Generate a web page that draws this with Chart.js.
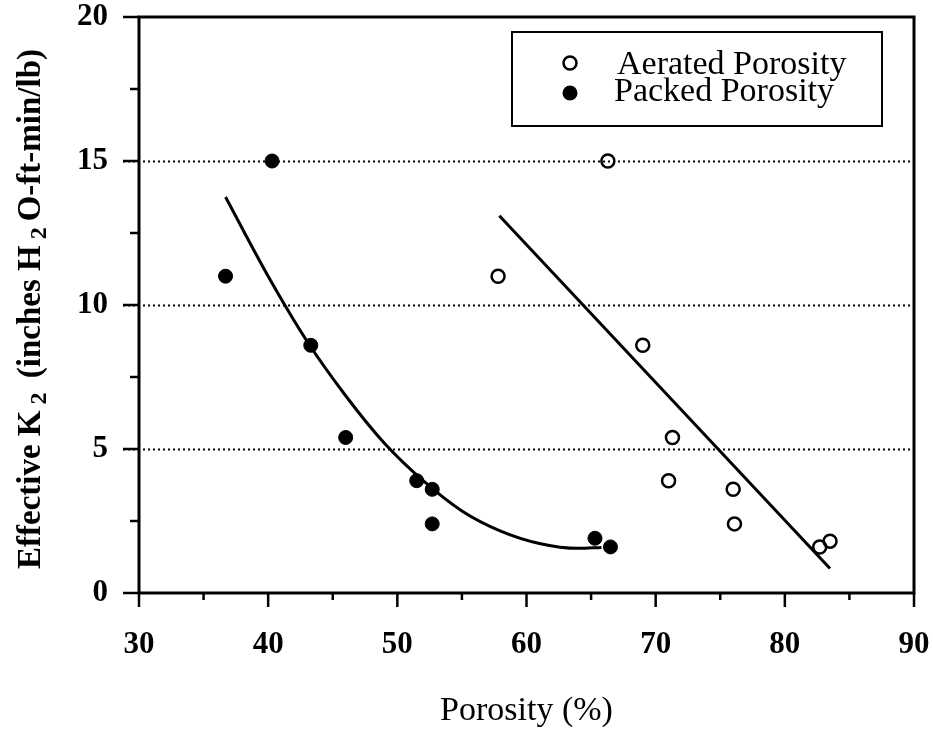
<!DOCTYPE html>
<html>
<head>
<meta charset="utf-8">
<script src="https://cdn.jsdelivr.net/npm/chart.js@4/dist/chart.umd.min.js"></script>
<style>
  html, body { margin: 0; padding: 0; background: #fff; }
  #wrap { width: 933px; height: 732px; position: relative; }
</style>
</head>
<body>
<div id="wrap"><canvas id="c"></canvas></div>
<script>
// Measured samples: porosity (%) vs effective K2
const packedPorosity  = [36.7, 40.3, 43.3, 46.0, 51.5, 52.7, 52.7, 65.3, 66.5];
const packedK2        = [11.0, 15.0, 8.6, 5.4, 3.9, 3.6, 2.4, 1.9, 1.6];
const aeratedPorosity = [57.8, 66.3, 69.0, 71.3, 71.0, 76.0, 76.1, 82.7, 83.5];
const aeratedK2       = [11.0, 15.0, 8.6, 5.4, 3.9, 3.6, 2.4, 1.6, 1.8];

// Trend curves
const packedFitX  = [36.7, 40, 43, 46, 49, 52, 55, 58, 61, 64, 65.8];
const packedFitY  = [13.75, 11.0, 8.75, 6.85, 5.2, 3.9, 2.85, 2.15, 1.72, 1.55, 1.58];
const aeratedFitX = [57.9, 83.5];
const aeratedFitY = [13.1, 0.85];

// Axis ticks
const xTicks = [30, 40, 50, 60, 70, 80, 90];
const yTicks = [0, 5, 10, 15, 20];
const legendLabels = ['Aerated Porosity', 'Packed Porosity'];

const SERIF = '"Liberation Serif", "Times New Roman", serif';
const pairs = (xs, ys) => xs.map((x, i) => ({ x: x, y: ys[i] }));

// Frame, tick marks, dotted guides, legend box and rotated y title
const decorations = {
  id: 'decorations',
  beforeDatasetsDraw(chart) {
    const { ctx, chartArea: a, scales: { x, y } } = chart;
    ctx.save();
    ctx.strokeStyle = '#000';
    ctx.lineWidth = 2;
    ctx.setLineDash([2, 3]);
    [5, 10, 15].forEach(v => {
      const py = Math.round(y.getPixelForValue(v)) + 0.5;
      ctx.beginPath();
      ctx.moveTo(a.left - 16, py);
      ctx.lineTo(a.right, py);
      ctx.stroke();
    });
    ctx.restore();
  },
  afterDraw(chart) {
    const { ctx, chartArea: a, scales: { x, y } } = chart;
    ctx.save();
    ctx.strokeStyle = '#000';
    ctx.fillStyle = '#000';

    // plot frame
    ctx.lineWidth = 3;
    ctx.strokeRect(a.left, a.top, a.right - a.left, a.bottom - a.top);

    // y tick marks (major every 5, minor every 2.5)
    ctx.lineWidth = 2.5;
    for (let v = 0; v <= 20; v += 2.5) {
      const py = y.getPixelForValue(v);
      const len = (v % 5 === 0) ? 16 : 9;
      ctx.beginPath();
      ctx.moveTo(a.left - len, py);
      ctx.lineTo(a.left, py);
      ctx.stroke();
    }
    // x tick marks (major every 10, minor every 5)
    for (let v = 30; v <= 90; v += 5) {
      const px = x.getPixelForValue(v);
      const len = (v % 10 === 0) ? 14 : 7;
      ctx.beginPath();
      ctx.moveTo(px, a.bottom);
      ctx.lineTo(px, a.bottom + len);
      ctx.stroke();
    }

    // legend
    const bx = a.right - 402, by = a.top + 15, bw = 370, bh = 94;
    ctx.lineWidth = 2;
    ctx.strokeRect(bx, by, bw, bh);
    const mx = bx + 58;
    ctx.lineWidth = 2.5;
    ctx.beginPath();
    ctx.arc(mx, by + 31, 6.5, 0, Math.PI * 2);
    ctx.stroke();
    ctx.beginPath();
    ctx.arc(mx, by + 61, 7.5, 0, Math.PI * 2);
    ctx.fill();
    ctx.font = '34px ' + SERIF;
    ctx.textBaseline = 'alphabetic';
    ctx.textAlign = 'left';
    ctx.fillText(legendLabels[0], bx + 105, by + 42);
    ctx.fillText(legendLabels[1], bx + 102, by + 69);

    // y axis title with subscripts, reading bottom to top
    const parts = [
      { t: 'Effective K', sub: false },
      { t: '2', sub: true },
      { t: ' (inches H', sub: false },
      { t: '2', sub: true },
      { t: 'O-ft-min/lb)', sub: false }
    ];
    const mainFont = 'bold 33px ' + SERIF;
    const subFont = 'bold 24px ' + SERIF;
    const gap = 6;
    let total = 0;
    parts.forEach(p => {
      ctx.font = p.sub ? subFont : mainFont;
      p.w = ctx.measureText(p.t).width;
      total += p.w + (p.sub ? 2 * gap : 0);
    });
    const cx = 29, cy = (a.top + a.bottom) / 2 + 4;
    ctx.translate(cx, cy);
    ctx.rotate(-Math.PI / 2);
    ctx.textBaseline = 'alphabetic';
    let pos = -total / 2;
    parts.forEach(p => {
      ctx.font = p.sub ? subFont : mainFont;
      if (p.sub) {
        ctx.fillText(p.t, pos + gap, 17);
        pos += p.w + 2 * gap;
      } else {
        ctx.fillText(p.t, pos, 11);
        pos += p.w;
      }
    });
    ctx.restore();
  }
};

// Keep the plot box fixed: drop the label-overflow padding the scales request
function fixPadding(s) {
  s.paddingTop = 0; s.paddingBottom = 0; s.paddingLeft = 0; s.paddingRight = 0;
}

new Chart(document.getElementById('c'), {
  type: 'scatter',
  data: {
    datasets: [
      {
        label: legendLabels[0],
        data: pairs(aeratedPorosity, aeratedK2),
        pointStyle: 'circle',
        pointRadius: 6.5,
        borderWidth: 2.5,
        borderColor: '#000',
        backgroundColor: 'rgba(0,0,0,0)'
      },
      {
        label: legendLabels[1],
        data: pairs(packedPorosity, packedK2),
        pointStyle: 'circle',
        pointRadius: 7,
        borderWidth: 1,
        borderColor: '#000',
        backgroundColor: '#000'
      },
      {
        label: 'packed fit',
        data: pairs(packedFitX, packedFitY),
        showLine: true,
        pointRadius: 0,
        borderColor: '#000',
        borderWidth: 3,
        cubicInterpolationMode: 'monotone',
        fill: false
      },
      {
        label: 'aerated fit',
        data: pairs(aeratedFitX, aeratedFitY),
        showLine: true,
        pointRadius: 0,
        borderColor: '#000',
        borderWidth: 3,
        fill: false
      }
    ]
  },
  options: {
    responsive: true,
    maintainAspectRatio: false,
    animation: false,
    layout: { padding: { top: 17, right: 19, left: 0, bottom: 0 } },
    plugins: {
      legend: { display: false },
      tooltip: { enabled: false }
    },
    scales: {
      x: {
        type: 'linear',
        min: 30,
        max: 90,
        afterFit(s) { s.height = 139; fixPadding(s); },
        afterBuildTicks(s) { s.ticks = xTicks.map(v => ({ value: v })); },
        grid: { display: false, drawTicks: false },
        border: { display: false },
        ticks: {
          padding: 33,
          color: '#000',
          font: { family: SERIF, size: 31, weight: 'bold' }
        },
        title: {
          display: true,
          text: 'Porosity (%)',
          color: '#000',
          font: { family: SERIF, size: 34, weight: 'normal' },
          padding: { top: 0, bottom: 1 }
        }
      },
      y: {
        type: 'linear',
        min: 0,
        max: 20,
        afterFit(s) { s.width = 139; fixPadding(s); },
        afterBuildTicks(s) { s.ticks = yTicks.map(v => ({ value: v })); },
        grid: { display: false, drawTicks: false },
        border: { display: false },
        ticks: {
          padding: 31,
          color: '#000',
          font: { family: SERIF, size: 31, weight: 'bold' }
        }
      }
    }
  },
  plugins: [decorations]
});
</script>
</body>
</html>
